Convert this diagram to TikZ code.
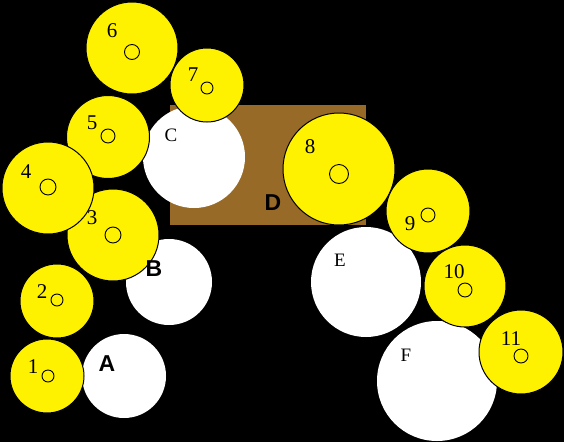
\documentclass[tikz,border=0pt]{standalone}
\usepackage{fontspec}
\setmainfont{Liberation Serif}
\setsansfont{Liberation Sans}
\usepackage{xcolor}
\usepackage{tikz}
\definecolor{plank}{RGB}{152,106,40}

\begin{document}
\begin{tikzpicture}[
  x=1pt, y=-1pt,
  ball/.style={circle, draw=black, line width=1pt, fill=yellow, inner sep=0pt, minimum size=#1},
  pin/.style={circle, draw=black, line width=0.9pt, fill=yellow, inner sep=0pt, minimum size=#1},
  disc/.style={circle, fill=white, inner sep=0pt, minimum size=#1},
  plate/.style={rectangle, fill=plank, inner sep=0pt, minimum width=196pt, minimum height=120pt},
  num/.style={inner sep=0pt, font=\fontsize{21}{21}\selectfont},
  rim/.style={inner sep=0pt, font=\fontsize{19}{19}\selectfont},
  tag/.style={inner sep=0pt, font=\sffamily\bfseries\fontsize{23}{23}\selectfont},
]
  \fill[black] (0,0) rectangle (564,442);
  \useasboundingbox (0,0) rectangle (564,442);

  % plate and white discs
  \node[plate] (d) at (268,165) {};
  \node[disc=102] (c) at (194,157) {};
  \node[disc=86] (b) at (169,282) {};
  \node[disc=84] (a) at (124,376) {};
  \node[disc=110] (e) at (366,282) {};
  \node[disc=120] (f) at (437,381) {};

  % yellow balls, each with its pin
  \node[ball=92] (y6) at (132,48) {};
  \node[pin=15] (p6) at (132,52) {};
  \node[ball=74] (y7) at (207,85) {};
  \node[pin=12] (p7) at (207,88) {};
  \node[ball=83] (y5) at (108,137) {};
  \node[pin=14] (p5) at (108,136) {};
  \node[ball=92] (y3) at (113,235) {};
  \node[pin=16] (p3) at (113,235) {};
  \node[ball=92] (y4) at (48,188) {};
  \node[pin=16] (p4) at (48,187) {};
  \node[ball=74] (y2) at (57,301) {};
  \node[pin=12] (p2) at (57,300) {};
  \node[ball=74] (y1) at (47,376) {};
  \node[pin=12] (p1) at (48,376) {};
  \node[ball=112] (y8) at (339,169) {};
  \node[pin=19] (p8) at (339,174) {};
  \node[ball=84] (y9) at (428,211) {};
  \node[pin=14] (p9) at (428,215) {};
  \node[ball=82] (y10) at (465,286) {};
  \node[pin=14] (p10) at (465,290) {};
  \node[ball=84] (y11) at (521,352) {};
  \node[pin=14] (p11) at (521,356) {};

  % labels
  \node[num] (n1) at (33,367) {1};
  \node[num] (n2) at (42,292) {2};
  \node[num] (n3) at (92,218) {3};
  \node[num] (n4) at (26,172) {4};
  \node[num] (n5) at (92,123) {5};
  \node[num] (n6) at (112,31) {6};
  \node[num] (n7) at (193,75) {7};
  \node[num] (n8) at (310,147) {8};
  \node[num] (n9) at (410,224) {9};
  \node[num] (n10) at (454,272) {10};
  \node[num] (n11) at (511,339) {11};
  \node[rim] (lc) at (171,135) {C};
  \node[rim] (le) at (340,260) {E};
  \node[rim] (lf) at (406,355) {F};
  \node[tag] (la) at (107,364) {A};
  \node[tag] (lb) at (154,269) {B};
  \node[tag] (ld) at (273,203) {D};
\end{tikzpicture}
\end{document}
